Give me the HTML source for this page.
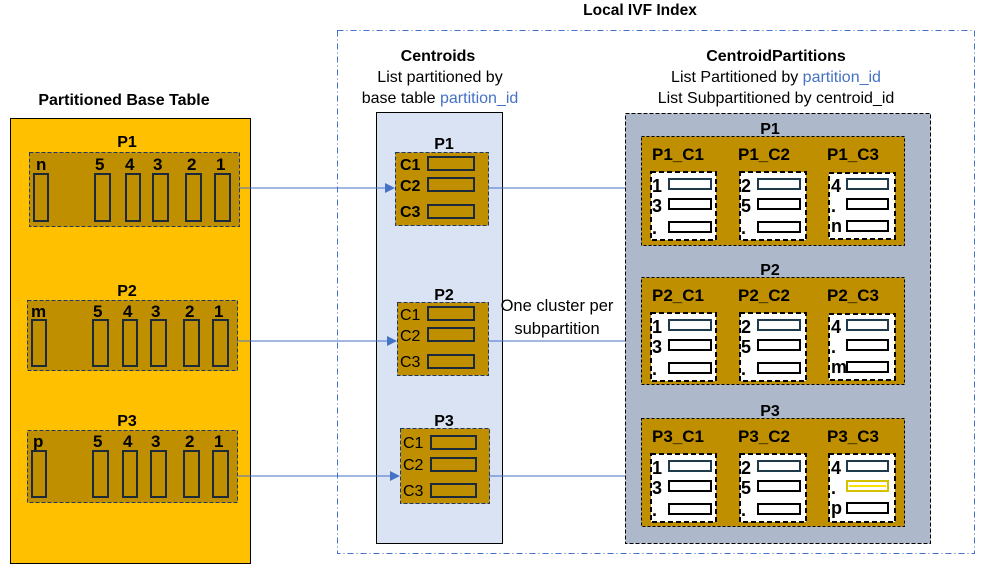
<!DOCTYPE html>
<html><head><meta charset="utf-8"><style>
html,body{margin:0;padding:0;background:#fff;}
svg{display:block;font-family:"Liberation Sans",sans-serif;}
.b{font-weight:bold;}
</style></head><body>
<svg width="987" height="574" viewBox="0 0 987 574" xmlns="http://www.w3.org/2000/svg">
<defs><marker id="ar" markerWidth="10" markerHeight="10" refX="9" refY="5" orient="auto" markerUnits="userSpaceOnUse"><path d="M0,0 L10,5 L0,10 z" fill="#4472C4"/></marker></defs>

<!-- titles -->
<text x="640" y="15" class="b" font-size="15.5" text-anchor="middle">Local IVF Index</text>
<rect x="337.5" y="30.5" width="637" height="523" fill="none" stroke="#4472C4" stroke-dasharray="6,3,1,3"/>
<text x="124" y="105" class="b" font-size="16" text-anchor="middle">Partitioned Base Table</text>
<text x="438" y="61" class="b" font-size="16" text-anchor="middle">Centroids</text>
<text x="440" y="82" font-size="16" text-anchor="middle">List partitioned by</text>
<text x="440" y="103" font-size="16" text-anchor="middle">base table <tspan fill="#4472C4">partition_id</tspan></text>
<text x="776" y="61" class="b" font-size="16" text-anchor="middle">CentroidPartitions</text>
<text x="776" y="82" font-size="16" text-anchor="middle">List Partitioned by <tspan fill="#4472C4">partition_id</tspan></text>
<text x="776" y="103" font-size="16" text-anchor="middle">List Subpartitioned by centroid_id</text>

<!-- base table -->
<rect x="10.5" y="118.5" width="240" height="445" fill="#FFC000" stroke="#000"/>
<g font-size="17" class="b">
<text x="127" y="147" text-anchor="middle" font-size="16">P1</text>
<rect x="29.5" y="152.5" width="210" height="74" fill="#BF8F00" stroke="#203864" stroke-dasharray="4,2"/>
<text x="36" y="170">n</text><text x="95" y="170">5</text><text x="125" y="170">4</text><text x="153" y="170">3</text><text x="187" y="170">2</text><text x="216" y="170">1</text>
<g fill="none" stroke="#1a2a3a" stroke-width="2"><rect x="34" y="174" width="14" height="47"/><rect x="95" y="174" width="15" height="47"/><rect x="126" y="174" width="14" height="47"/><rect x="153" y="174" width="15" height="47"/><rect x="186" y="174" width="15" height="47"/><rect x="215" y="174" width="15" height="47"/></g>

<text x="127" y="296" text-anchor="middle" font-size="16">P2</text>
<rect x="27.5" y="300.5" width="210" height="70" fill="#BF8F00" stroke="#203864" stroke-dasharray="4,2"/>
<text x="31" y="317">m</text><text x="93" y="317">5</text><text x="123" y="317">4</text><text x="151" y="317">3</text><text x="185" y="317">2</text><text x="214" y="317">1</text>
<g fill="none" stroke="#1a2a3a" stroke-width="2"><rect x="32" y="320" width="14" height="46"/><rect x="93" y="320" width="15" height="46"/><rect x="123" y="320" width="14" height="46"/><rect x="151" y="320" width="15" height="46"/><rect x="184" y="320" width="15" height="46"/><rect x="213" y="320" width="15" height="46"/></g>

<text x="127" y="426" text-anchor="middle" font-size="16">P3</text>
<rect x="27.5" y="430.5" width="210" height="72" fill="#BF8F00" stroke="#203864" stroke-dasharray="4,2"/>
<text x="33" y="447">p</text><text x="93" y="447">5</text><text x="123" y="447">4</text><text x="151" y="447">3</text><text x="185" y="447">2</text><text x="214" y="447">1</text>
<g fill="none" stroke="#1a2a3a" stroke-width="2"><rect x="32" y="451" width="14" height="46"/><rect x="93" y="451" width="15" height="46"/><rect x="123" y="451" width="14" height="46"/><rect x="151" y="451" width="15" height="46"/><rect x="184" y="451" width="15" height="46"/><rect x="213" y="451" width="15" height="46"/></g>
</g>

<!-- centroids -->
<rect x="376.5" y="112.5" width="126" height="431" fill="#DAE3F3" stroke="#000"/>
<g class="b">
<text x="444" y="149" text-anchor="middle" font-size="16">P1</text>
<rect x="395.5" y="152.5" width="93" height="73" fill="#BF8F00" stroke="#203864" stroke-dasharray="4,2"/>
<g font-size="16"><text x="400" y="170">C1</text><text x="400" y="191">C2</text><text x="400" y="217">C3</text></g>
<g fill="none" stroke="#1a2a3a" stroke-width="2"><rect x="428" y="157" width="46" height="13"/><rect x="428" y="178" width="46" height="13"/><rect x="428" y="205" width="46" height="13"/></g>

<text x="444" y="300" text-anchor="middle" font-size="16">P2</text>
<rect x="397.5" y="302.5" width="91" height="73" fill="#BF8F00" stroke="#203864" stroke-dasharray="4,2"/>
<g font-size="16" font-weight="normal"><text x="400" y="320">C1</text><text x="400" y="341">C2</text><text x="400" y="367">C3</text></g>
<g fill="none" stroke="#1a2a3a" stroke-width="2"><rect x="428" y="307" width="46" height="13"/><rect x="428" y="328" width="46" height="13"/><rect x="428" y="355" width="46" height="13"/></g>

<text x="444" y="426" text-anchor="middle" font-size="16">P3</text>
<rect x="400.5" y="428.5" width="89" height="75" fill="#BF8F00" stroke="#203864" stroke-dasharray="4,2"/>
<g font-size="16" font-weight="normal"><text x="403" y="448">C1</text><text x="403" y="470">C2</text><text x="403" y="496">C3</text></g>
<g fill="none" stroke="#1a2a3a" stroke-width="2"><rect x="431" y="436" width="45" height="13"/><rect x="431" y="458" width="45" height="13"/><rect x="431" y="484" width="45" height="13"/></g>
</g>

<!-- arrows -->
<g stroke="#4472C4" stroke-width="1" marker-end="url(#ar)">
<line x1="239" y1="188" x2="394" y2="188"/><line x1="237" y1="341" x2="396" y2="341"/><line x1="237" y1="476" x2="399" y2="476"/>
<line x1="488" y1="188" x2="641" y2="188"/><line x1="488" y1="341" x2="641" y2="341"/><line x1="489" y1="476" x2="641" y2="476"/>
</g>
<text x="557" y="311" font-size="16.5" text-anchor="middle">One cluster per</text>
<text x="557" y="334" font-size="16.5" text-anchor="middle">subpartition</text>

<!-- centroid partitions -->
<rect x="625.5" y="113.5" width="305" height="430" fill="#ADB9CA" stroke="#000" stroke-dasharray="4,2"/>
<g class="b">
<text x="770" y="134" text-anchor="middle" font-size="16">P1</text>
<rect x="641.5" y="136.5" width="263" height="109" fill="#BF8F00" stroke="#000" stroke-dasharray="3,2"/>
<g font-size="17"><text x="652" y="160">P1_C1</text><text x="738" y="160">P1_C2</text><text x="827" y="160">P1_C3</text></g>
<text x="770" y="275" text-anchor="middle" font-size="16">P2</text>
<rect x="641.5" y="277.5" width="263" height="107" fill="#BF8F00" stroke="#000" stroke-dasharray="3,2"/>
<g font-size="17"><text x="652" y="301">P2_C1</text><text x="738" y="301">P2_C2</text><text x="827" y="301">P2_C3</text></g>
<text x="770" y="416" text-anchor="middle" font-size="16">P3</text>
<rect x="641.5" y="418.5" width="263" height="108" fill="#BF8F00" stroke="#000" stroke-dasharray="3,2"/>
<g font-size="17"><text x="652" y="442">P3_C1</text><text x="738" y="442">P3_C2</text><text x="827" y="442">P3_C3</text></g>

<g stroke="#000" stroke-width="2" stroke-dasharray="5,3" fill="#fff">
<rect x="651" y="172" width="65" height="68"/><rect x="740" y="172" width="66" height="68"/><rect x="829" y="173" width="66" height="66"/>
<rect x="651" y="313" width="65" height="68"/><rect x="740" y="313" width="66" height="68"/><rect x="829" y="314" width="66" height="66"/>
<rect x="651" y="454" width="65" height="68"/><rect x="740" y="454" width="66" height="68"/><rect x="829" y="454" width="66" height="68"/>
</g>
<g font-size="18">
<text x="652" y="192">1</text><text x="652" y="212">3</text><text x="652" y="234">.</text>
<text x="741" y="192">2</text><text x="741" y="212">5</text><text x="741" y="234">.</text>
<text x="831" y="192">4</text><text x="831" y="212">.</text><text x="831" y="232">n</text>
<text x="652" y="333">1</text><text x="652" y="353">3</text><text x="652" y="375">.</text>
<text x="741" y="333">2</text><text x="741" y="353">5</text><text x="741" y="375">.</text>
<text x="831" y="333">4</text><text x="831" y="353">.</text><text x="831" y="373">m</text>
<text x="652" y="474">1</text><text x="652" y="494">3</text><text x="652" y="516">.</text>
<text x="741" y="474">2</text><text x="741" y="494">5</text><text x="741" y="516">.</text>
<text x="831" y="474">4</text><text x="831" y="494">.</text><text x="831" y="514">p</text>
</g>
</g>
<g fill="#fff" stroke-width="2">
<g stroke="#1F3A4A"><rect x="669" y="179" width="42" height="10"/><rect x="758" y="179" width="42" height="10"/><rect x="847" y="179" width="41" height="10"/>
<rect x="669" y="320" width="42" height="10"/><rect x="758" y="320" width="42" height="10"/><rect x="847" y="320" width="41" height="10"/>
<rect x="669" y="461" width="42" height="10"/><rect x="758" y="461" width="42" height="10"/><rect x="847" y="461" width="41" height="10"/></g>
<g stroke="#000"><rect x="669" y="199" width="42" height="10"/><rect x="669" y="222" width="42" height="10"/><rect x="758" y="199" width="42" height="10"/><rect x="758" y="222" width="42" height="10"/><rect x="847" y="199" width="41" height="10"/><rect x="847" y="221" width="41" height="10"/>
<rect x="669" y="340" width="42" height="10"/><rect x="669" y="363" width="42" height="10"/><rect x="758" y="340" width="42" height="10"/><rect x="758" y="363" width="42" height="10"/><rect x="847" y="340" width="41" height="10"/><rect x="847" y="362" width="41" height="10"/>
<rect x="669" y="481" width="42" height="10"/><rect x="669" y="504" width="42" height="10"/><rect x="758" y="481" width="42" height="10"/><rect x="758" y="504" width="42" height="10"/><rect x="847" y="503" width="41" height="10"/></g>
<rect x="847" y="481" width="41" height="10" stroke="#D4C000"/><line x1="849" y1="486" x2="886" y2="486" stroke="#FFE000"/>
</g>
</svg>
</body></html>
